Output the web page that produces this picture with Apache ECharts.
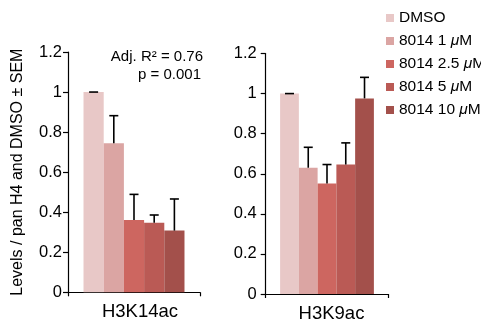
<!DOCTYPE html>
<html>
<head>
<meta charset="utf-8">
<script src="https://cdn.jsdelivr.net/npm/echarts@6/dist/echarts.min.js"></script>
<style>html,body{margin:0;padding:0;background:#fff;}#c{width:481px;height:323px;}</style>
</head>
<body>
<div id="c"></div>
<script>
const seriesNames = ['DMSO', '8014 1 μM', '8014 2.5 μM', '8014 5 μM', '8014 10 μM'];
const colors = ['#e8c8c7', '#dba5a3', '#cd6660', '#ba5a55', '#a3504b'];
const leftCategory = ['H3K14ac'];
const rightCategory = ['H3K9ac'];
const k14Means = [1.0, 0.744, 0.361, 0.347, 0.308];
const k14Sem = [0.0, 0.138, 0.128, 0.039, 0.158];
const k9Means = [1.0, 0.630, 0.551, 0.646, 0.976];
const k9Sem = [0.0, 0.102, 0.095, 0.108, 0.105];
const yTicks = { min: 0, max: 1.2, interval: 0.2 };

const FONT = 'Liberation Sans, Arial, Helvetica, sans-serif';
const BAR_FRAC = 0.153;

function errRender(params, api) {
  const i = api.value(3);
  const base = api.coord([api.value(0), api.value(1)]);
  const top = api.coord([api.value(0), api.value(1) + api.value(2)]);
  const band = api.size([1, 0])[0];
  const bw = band * BAR_FRAC;
  const x = base[0] + (i - 2) * bw;
  const style = { stroke: '#000', lineWidth: 1.6 };
  return {
    type: 'group',
    children: [
      { type: 'line', shape: { x1: x, y1: base[1], x2: x, y2: top[1] }, style: style },
      { type: 'line', shape: { x1: x - 4.5, y1: top[1], x2: x + 4.5, y2: top[1] }, style: style }
    ]
  };
}

function yAxisCfg(idx, margin, withName) {
  const a = {
    type: 'value', gridIndex: idx, min: yTicks.min, max: yTicks.max, interval: yTicks.interval,
    axisLine: { show: true, lineStyle: { color: '#000', width: 1.2 } },
    axisTick: { show: true, length: 5, lineStyle: { color: '#000', width: 1.2 } },
    splitLine: { show: false },
    axisLabel: { color: '#000', fontSize: 16.5, fontFamily: FONT, margin: margin }
  };
  if (withName) {
    a.name = 'Levels / pan H4 and DMSO ± SEM';
    a.nameLocation = 'middle';
    a.nameRotate = 90;
    a.nameGap = 42;
    a.nameTextStyle = { color: '#000', fontSize: 16, fontFamily: FONT };
  }
  return a;
}

function xAxisCfg(idx, cats, offX) {
  return {
    type: 'category', gridIndex: idx, data: cats,
    axisLine: { show: true, lineStyle: { color: '#000', width: 1.2 } },
    axisTick: { show: true, length: 4, alignWithLabel: false, lineStyle: { color: '#000', width: 1.2 } },
    axisLabel: { color: '#000', fontSize: 18.5, fontFamily: FONT, margin: 10, padding: [0, 0, 0, offX] }
  };
}

const series = [];
seriesNames.forEach((n, i) => {
  series.push({ name: n, type: 'bar', xAxisIndex: 0, yAxisIndex: 0, data: [k14Means[i]],
    barWidth: (BAR_FRAC * 100) + '%', barGap: '0%', itemStyle: { color: colors[i] }, silent: true });
});
seriesNames.forEach((n, i) => {
  series.push({ name: n, type: 'bar', xAxisIndex: 1, yAxisIndex: 1, data: [k9Means[i]],
    barWidth: (BAR_FRAC * 100) + '%', barGap: '0%', itemStyle: { color: colors[i] }, silent: true });
});
series.push({ type: 'custom', xAxisIndex: 0, yAxisIndex: 0, z: 10, renderItem: errRender,
  data: k14Means.map((m, i) => [0, m, k14Sem[i], i]) });
series.push({ type: 'custom', xAxisIndex: 1, yAxisIndex: 1, z: 10, renderItem: errRender,
  data: k9Means.map((m, i) => [0, m, k9Sem[i], i]) });

const chart = echarts.init(document.getElementById('c'), null, { renderer: 'canvas' });
chart.setOption({
  animation: false,
  backgroundColor: '#fff',
  grid: [
    { left: 68, top: 52, width: 132, height: 240.3 },
    { left: 265.7, top: 53.5, width: 122.6, height: 243 }
  ],
  xAxis: [xAxisCfg(0, leftCategory, 12), xAxisCfg(1, rightCategory, 9)],
  yAxis: [yAxisCfg(0, 6, true), yAxisCfg(1, 9, false)],
  legend: {
    orient: 'vertical', left: 381, top: 5, itemWidth: 8, itemHeight: 8, itemGap: 7,
    icon: 'rect', data: seriesNames,
    formatter: function (name) { return name.replace('μ', '{i|μ}'); },
    textStyle: { color: '#000', fontSize: 15.5, fontFamily: FONT, lineHeight: 16,
      rich: { i: { fontStyle: 'italic', fontSize: 15.5, fontFamily: FONT, color: '#000' } } }
  },
  graphic: [
    { type: 'text', x: 203, y: 57, style: { text: 'Adj. R² = 0.76', textAlign: 'right', textVerticalAlign: 'middle', font: '15px ' + FONT, fill: '#000' } },
    { type: 'text', x: 201, y: 75, style: { text: 'p = 0.001', textAlign: 'right', textVerticalAlign: 'middle', font: '15px ' + FONT, fill: '#000' } }
  ],
  series: series
});
</script>
</body>
</html>
